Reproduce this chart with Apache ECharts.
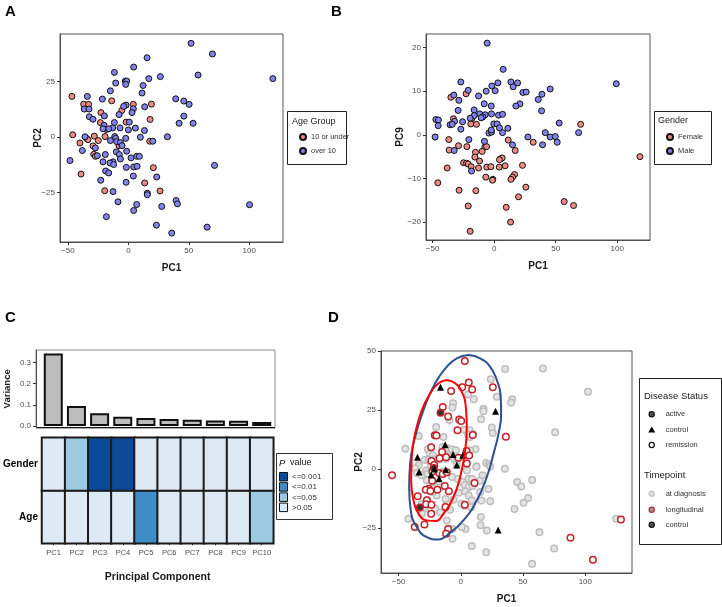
<!DOCTYPE html>
<html>
<head>
<meta charset="utf-8">
<script src="https://cdn.jsdelivr.net/npm/echarts@6/dist/echarts.min.js"></script>
<style>
html,body{margin:0;padding:0;background:#fff;}
#chart{width:722px;height:607px;}
</style>
</head>
<body>
<div id="chart"></div>
<script>
// ---------------- Panel A: PC1 vs PC2 by age group ----------------
const ageUnder10 = [[-46.7,18.4],[-13.8,16.4],[-37.0,14.9],[-32.9,14.8],[4.1,14.8],[19.1,14.9],[-5.5,12.0],[-22.7,11.1],[18.0,8.0],[-23.2,6.6],[-1.9,6.8],[-46.1,1.1],[-28.2,0.5],[-34.5,-0.6],[-33.4,-1.1],[-19.3,0.3],[-40.1,-2.6],[-24.9,-1.5],[-8.0,-2.6],[17.7,-1.8],[-29.3,-3.9],[-7.7,-3.8],[-28.7,-7.7],[-27.3,-8.6],[20.7,-13.7],[-39.2,-16.6],[13.5,-20.6],[-19.6,-24.1],[26.2,-24.2]];
const ageOver10 = [[51.9,42.3],[69.6,37.5],[15.5,35.8],[4.4,31.6],[-11.6,29.2],[57.7,28.0],[26.5,27.3],[16.9,26.4],[119.6,26.4],[-2.5,25.3],[-1.4,25.3],[-10.5,24.4],[-2.2,23.8],[12.2,23.3],[-14.9,20.9],[11.3,19.9],[-34.0,18.4],[-21.5,17.2],[39.2,17.3],[45.9,16.3],[-1.9,14.5],[50.3,14.8],[-36.5,12.7],[-32.6,12.7],[4.1,12.8],[13.5,13.7],[-3.9,13.9],[3.0,11.1],[-7.7,10.2],[-19.9,9.6],[-32.3,9.2],[45.9,9.5],[-29.3,8.1],[-11.6,6.6],[0.8,6.8],[42.0,6.3],[53.6,6.3],[-20.2,5.4],[5.8,4.1],[-6.9,4.2],[-13.0,4.2],[-18.2,3.5],[-16.3,3.8],[-21.0,3.8],[0,3.3],[13.3,3.0],[-35.9,0.2],[-11.3,0.3],[-10.5,-0.5],[9.9,0],[-2.2,-0.5],[32.3,0.2],[-14.9,-1.5],[-9.7,-2.0],[-6.6,-2.4],[20.2,-1.8],[-38.1,-6.0],[-27.3,-4.8],[-5.2,-3.8],[-9.9,-6.6],[-1.4,-6.3],[-25.7,-8.3],[-19.1,-7.8],[-7.5,-7.8],[6.9,-8.6],[9.1,-8.6],[-6.6,-9.8],[2.2,-9.3],[-48.3,-10.5],[-21.0,-11.1],[-12.7,-11.1],[-15.2,-11.6],[-12.2,-12.3],[-1.7,-13.6],[4.4,-13.4],[7.2,-13.1],[71.3,-12.7],[-18.8,-15.2],[-16.3,-16.1],[4.1,-17.5],[23.5,-17.9],[-22.9,-19.4],[-1.9,-20.3],[-12.7,-24.5],[15.7,-25.2],[15.7,-25.9],[39.5,-28.5],[40.6,-30.0],[-8.6,-29.1],[6.9,-30.3],[27.6,-31.2],[100.3,-30.4],[4.4,-33.0],[-18.2,-35.8],[23.2,-39.6],[65.2,-40.5],[35.9,-43.2]];
const aXTicks = [-50, 0, 50, 100];
const aYTicks = [-25, 0, 25];

// ---------------- Panel B: PC1 vs PC9 by gender ----------------
const genderFemale = [[-22.8,9.4],[-35.2,8.6],[-18.2,3.7],[-33.1,3.7],[-19.0,2.5],[-14.4,2.4],[70.2,2.4],[-36.9,-1.1],[11.4,-1.2],[31.7,-1.7],[-29.0,-2.5],[-22.2,-2.7],[-7.6,-2.8],[-6.2,-2.7],[-36.6,-3.5],[17.1,-3.6],[-9.8,-3.8],[-15.2,-4.0],[118.4,-5.0],[-15.7,-5.1],[5.1,-5.5],[6.5,-5.3],[4.3,-5.7],[-24.9,-6.4],[-22.5,-6.5],[-21.1,-6.7],[-11.9,-6.0],[-18.7,-7.3],[-38.2,-7.6],[-12.7,-7.6],[-6.0,-7.4],[-2.7,-7.3],[4.1,-7.4],[8.9,-7.1],[23.0,-7.0],[-6.8,-9.7],[-1.1,-10.2],[-1.4,-10.4],[16.5,-9.1],[14.9,-9.7],[13.6,-10.2],[-45.8,-11.0],[25.7,-12.0],[-28.5,-12.7],[-14.9,-12.8],[19.8,-14.2],[56.9,-15.3],[64.5,-16.2],[-21.1,-16.3],[9.8,-16.6],[13.3,-20.0],[-19.5,-22.1]];
const genderMale = [[-5.7,21.0],[7.3,15.0],[-27.1,12.1],[3.0,11.9],[13.6,12.1],[19.0,11.9],[15.4,11.0],[99.2,11.7],[-21.1,10.2],[-6.5,10.0],[-1.9,11.2],[0.8,10.1],[45.5,10.5],[23.3,9.7],[26.0,9.8],[38.8,9.3],[-32.8,9.1],[-12.7,8.9],[-28.7,7.9],[35.8,8.1],[-8.1,7.1],[-2.4,6.6],[20.9,7.1],[17.6,6.6],[-29.3,5.6],[-16.3,5.7],[38.5,5.5],[-11.7,4.8],[-2.2,4.8],[3.5,4.5],[6.8,4.7],[-16.3,4.4],[-7.3,4.6],[-9.2,4.1],[-10.6,3.9],[-19.5,3.8],[-47.4,3.5],[-45.3,3.4],[-25.7,3.0],[-32.2,3.1],[-35.8,2.3],[-34.1,2.4],[-0.3,2.5],[2.4,2.5],[52.8,2.7],[4.3,1.6],[11.1,1.5],[-27.1,1.3],[-45.5,2.1],[-4.3,0.4],[-2.2,0.6],[-2.4,1.1],[6.8,0.5],[41.5,0.5],[68.6,0.5],[-48.0,-0.5],[27.4,-0.5],[45.5,-0.5],[49.6,-0.4],[-20.6,-1.1],[-7.9,-1.5],[51.2,-1.7],[14.9,-2.3],[39.3,-2.3],[-32.5,-3.6],[-18.4,-8.3]];
const bXTicks = [-50, 0, 50, 100];
const bYTicks = [-20, -10, 0, 10, 20];

// ---------------- Panel C: variance and association heatmap ----------------
const pcCategories = ['PC1','PC2','PC3','PC4','PC5','PC6','PC7','PC8','PC9','PC10'];
const varianceValues = [0.342, 0.094, 0.060, 0.044, 0.038, 0.033, 0.030, 0.026, 0.025, 0.019];
const varianceTicks = [0, 0.1, 0.2, 0.3];
const heatRows = ['Age', 'Gender'];
// p-value class: 0 = >0.05, 1 = <=0.05, 2 = <=0.01, 3 = <=0.001
const genderPClass = [0, 1, 3, 3, 0, 0, 0, 0, 0, 0];
const agePClass = [0, 0, 0, 0, 2, 0, 0, 0, 0, 1];
const pValueLabels = ['<=0.001', '<=0.01', '<=0.05', '>0.05'];

// ---------------- Panel D: PC1 vs PC2 by disease status / timepoint ----------------
const atDiagnosis = [[65.9,42.6],[35.6,42.4],[24.1,38.0],[5.9,31.6],[10.4,29.6],[28.9,30.6],[41.3,29.6],[40.4,28.2],[-6.2,27.9],[-6.7,26.1],[18.2,25.5],[18.2,24.5],[24.9,17.6],[25.7,15.2],[102.1,32.7],[75.8,15.6],[-19.8,17.8],[-9.1,20.8],[-33.8,14.0],[-13.9,13.5],[2.7,16.6],[7.0,16.4],[16.3,21.1],[7.2,13.5],[5.9,14.6],[9.9,14.8],[-44.5,8.6],[11.8,8.4],[7.5,7.9],[-14.7,9.3],[-11.0,8.8],[-7.2,8.4],[-4.0,7.9],[-26.5,8.4],[-24.9,6.4],[-22.5,5.8],[-28.9,3.8],[-25.7,4.0],[-21.9,4.0],[-17.7,4.0],[-12.1,4.2],[-10.2,5.5],[-5.4,4.2],[-2.7,4.0],[-3.2,1.8],[-33.8,1.6],[-36.7,0.3],[-35.1,-1.7],[-31.6,-2.7],[-27.8,-0.7],[-24.1,1.7],[-26.8,-2.0],[-14.5,-1.1],[12.6,1.1],[12.5,0.9],[20.4,2.5],[22.5,1.8],[23.6,1.0],[35.4,0.1],[17.4,-2.7],[6.2,-4.1],[9.1,-4.1],[1.3,-5.4],[3.8,-7.1],[3.2,-6.8],[6.4,-7.7],[9.6,-7.2],[15.3,-5.0],[22.2,-8.5],[45.3,-5.5],[48.5,-7.4],[57.3,-4.7],[54.1,-12.3],[50.4,-14.3],[43.1,-17.0],[-1.6,-10.1],[3.5,-9.4],[6.4,-11.2],[8.8,-13.3],[15.5,-9.8],[16.6,-13.4],[23.6,-13.7],[2.9,-15.7],[8.3,-16.2],[0.5,-14.7],[-31.3,-14.9],[-28.7,-16.6],[-31.3,-19.0],[-42.1,-21.1],[-20.6,-16.9],[-16.6,-18.4],[-8.6,-17.3],[-11.3,-21.8],[-6.7,-25.4],[3.8,-25.5],[0.8,-24.6],[16.1,-20.4],[15.8,-23.9],[20.9,-26.1],[-6.7,-29.6],[8.8,-32.7],[20.4,-35.3],[63.2,-26.8],[75.0,-33.7],[57.3,-40.2],[124.8,-21.1],[-16.6,-7.8],[-19.3,-11.2],[-22.5,-9.9],[-26.8,-13.3],[-11.3,-14.7],[-12.3,-12.7],[-5.9,-13.0],[-2.7,-4.1],[-7.0,-3.4],[4.8,-0.6],[-27.3,-4.8],[-21.9,-5.5]];
const longitudinalRemission = [[3.2,45.8],[6.4,36.7],[-7.8,33.0],[1.1,34.6],[9.1,33.7],[25.7,34.6],[-14.5,26.3],[-10.2,22.2],[-1.3,21.0],[0.3,20.3],[-2.7,16.4],[-20.9,14.3],[-19.6,14.2],[9.6,14.4],[36.2,13.7],[-23.8,9.2],[-15.0,7.2],[4.6,7.6],[6.7,5.7],[-17.1,4.5],[-11.8,5.0],[-1.9,4.7],[4.8,2.3],[-23.6,3.4],[-21.4,1.7],[11.0,-5.9],[-22.8,-1.1],[-17.4,-1.7],[-14.5,-2.1],[-11.3,-1.4],[-23.0,-5.0],[-12.9,-7.2],[-25.7,-8.4],[-28.1,-8.8],[-18.8,-8.8],[-9.6,-9.5],[-24.4,-9.3],[-34.6,-11.6],[-27.3,-13.3],[-27.9,-15.0],[-12.3,-16.1],[3.2,-15.2],[-23.8,-19.0],[-23.6,-15.2],[-29.2,-23.5],[-37.0,-24.6],[-10.2,-25.4],[-11.8,-27.5],[-55.2,-2.7],[88.1,-29.2],[106.1,-38.5],[128.6,-21.4]];
const longitudinalActive = [[-16.3,23.8],[-32.9,-16.3],[-21.7,0.4]];
const controlSamples = [[-16.3,34.6],[27.9,24.5],[-12.6,10.3],[-34.8,5.0],[-6.2,6.1],[1.6,5.8],[-3.2,1.7],[-33.5,-1.3],[-21.2,0],[-23.8,-2.5],[-12.1,-0.3],[-17.4,-4.1],[30.0,-25.9]];
const ellipseDiagnosis = [[6.2,48.3],[15.5,46.9],[23.6,43.3],[28.9,37.7],[32.1,30.6],[32.4,23.5],[30.3,15.0],[26.3,6.5],[20.9,-3.4],[12.9,-13.3],[2.1,-21.8],[-11.3,-28.2],[-17.9,-29.9],[-27.3,-28.9],[-35.4,-24.6],[-40.2,-17.6],[-41.5,-7.6],[-40.7,2.3],[-36.7,13.6],[-30.0,24.9],[-20.6,36.3],[-11.3,43.3],[-3.2,46.9]];
const ellipseLongitudinal = [[-11.3,37.7],[-4.6,36.3],[0.8,32.7],[4.0,26.3],[4.8,17.8],[3.5,7.9],[-0.5,-3.4],[-5.9,-11.9],[-13.9,-19.0],[-20.6,-22.1],[-27.3,-21.8],[-34.0,-19.0],[-38.0,-13.3],[-39.9,-4.8],[-39.4,5.1],[-36.7,15.0],[-31.3,24.9],[-24.6,32.0],[-17.9,36.3]];
const dXTicks = [-50, 0, 50, 100];
const dYTicks = [-25, 0, 25, 50];

// ---------------- rendering ----------------
const FONT = '"Liberation Sans", Arial, sans-serif';
const minus = v => (v < 0 ? '\u2212' + Math.abs(v) : String(v));
const tickLabel = {color: '#4d4d4d', fontSize: 8, fontFamily: FONT};
const titleStyle = {color: '#1a1a1a', fontSize: 10, fontWeight: 'bold', fontFamily: FONT};

function valAxis(gridIndex, min, max, ticks, name, nameGap, fmt) {
  return {
    type: 'value', gridIndex, min, max,
    name, nameLocation: 'middle', nameGap, nameMoveOverlap: false, nameTextStyle: titleStyle,
    splitLine: {show: false},
    axisLine: {show: true, onZero: false, lineStyle: {color: '#4d4d4d', width: 1}},
    axisTick: {show: true, length: 3, customValues: ticks, lineStyle: {color: '#333'}},
    axisLabel: {show: true, margin: 5, customValues: ticks, formatter: fmt || minus, ...tickLabel}
  };
}

const chart = echarts.init(document.getElementById('chart'), null, {renderer: 'canvas'});

const gridBox = {show: true, borderColor: '#555', borderWidth: 1, backgroundColor: '#fff'};

const heatData = [];
pcCategories.forEach((pc, i) => {
  heatData.push([i, 0, agePClass[i]]);
  heatData.push([i, 1, genderPClass[i]]);
});

const blueShades = ['#dde9f5', '#9ccae0', '#3f8dc7', '#0c4a97']; // by class 0..3

const series = [
  {name: '10 or under', type: 'scatter', xAxisIndex: 0, yAxisIndex: 0, data: ageUnder10, symbolSize: 6,
   itemStyle: {color: '#ee8a82', borderColor: '#111', borderWidth: 1, opacity: 1}},
  {name: 'over 10', type: 'scatter', xAxisIndex: 0, yAxisIndex: 0, data: ageOver10, symbolSize: 6,
   itemStyle: {color: '#8383ee', borderColor: '#111', borderWidth: 1, opacity: 1}},
  {name: 'Female', type: 'scatter', xAxisIndex: 1, yAxisIndex: 1, data: genderFemale, symbolSize: 6,
   itemStyle: {color: '#ee8a82', borderColor: '#111', borderWidth: 1, opacity: 1}},
  {name: 'Male', type: 'scatter', xAxisIndex: 1, yAxisIndex: 1, data: genderMale, symbolSize: 6,
   itemStyle: {color: '#8383ee', borderColor: '#111', borderWidth: 1, opacity: 1}},
  {name: 'Variance', type: 'bar', xAxisIndex: 2, yAxisIndex: 2, data: varianceValues, barWidth: 19,
   itemStyle: {color: '#bdbdbd', borderColor: '#111', borderWidth: 2}},
  {name: 'P value', type: 'heatmap', xAxisIndex: 3, yAxisIndex: 3, data: heatData,
   itemStyle: {borderColor: '#1a1a1a', borderWidth: 2}},
  {name: 'at diagnosis', type: 'scatter', xAxisIndex: 4, yAxisIndex: 4, data: atDiagnosis, symbolSize: 6.5,
   itemStyle: {color: '#e4e4e4', borderColor: '#bdbdbd', borderWidth: 1.5, opacity: 1}},
  {name: 'longitudinal remission', type: 'scatter', xAxisIndex: 4, yAxisIndex: 4, data: longitudinalRemission, symbolSize: 6.5,
   itemStyle: {color: '#fff', borderColor: '#c42127', borderWidth: 1.5, opacity: 1}},
  {name: 'longitudinal active', type: 'scatter', xAxisIndex: 4, yAxisIndex: 4, data: longitudinalActive, symbolSize: 6.5,
   itemStyle: {color: '#333', borderColor: '#c42127', borderWidth: 1.5, opacity: 1}},
  {name: 'control samples', type: 'scatter', xAxisIndex: 4, yAxisIndex: 4, data: controlSamples, symbol: 'triangle', symbolSize: 7,
   itemStyle: {color: '#000', opacity: 1}},
  {name: 'ellipse diagnosis', type: 'line', xAxisIndex: 4, yAxisIndex: 4, data: ellipseDiagnosis.concat([ellipseDiagnosis[0]]),
   smooth: 0.5, symbol: 'none', lineStyle: {color: '#2c4f91', width: 2}},
  {name: 'ellipse longitudinal', type: 'line', xAxisIndex: 4, yAxisIndex: 4, data: ellipseLongitudinal.concat([ellipseLongitudinal[0]]),
   smooth: 0.5, symbol: 'none', lineStyle: {color: '#ff0000', width: 2}}
];

const txt = (x, y, text, style) => ({type: 'text', x, y, style: Object.assign({text, fontFamily: FONT, fill: '#1a1a1a', textVerticalAlign: 'middle'}, style)});
const rect = (x, y, w, h, style) => ({type: 'rect', shape: {x, y, width: w, height: h}, style});
const circ = (cx, cy, r, fill, stroke) => ({type: 'circle', shape: {cx, cy, r}, style: {fill, stroke, lineWidth: 1.2}});

const graphics = [
  // panel letters
  txt(5, 12, 'A', {fontSize: 15, fontWeight: 'bold', fill: '#000'}),
  txt(331, 12, 'B', {fontSize: 15, fontWeight: 'bold', fill: '#000'}),
  txt(5, 318, 'C', {fontSize: 15, fontWeight: 'bold', fill: '#000'}),
  txt(328, 318, 'D', {fontSize: 15, fontWeight: 'bold', fill: '#000'}),
  // legend A
  rect(287.5, 111.5, 59, 53, {fill: 'none', stroke: '#222', lineWidth: 1}),
  txt(292, 122, 'Age Group', {fontSize: 9, fill: '#222'}),
  // legend B
  rect(654.5, 111.5, 57, 53, {fill: 'none', stroke: '#222', lineWidth: 1}),
  txt(658, 121, 'Gender', {fontSize: 9, fill: '#222'}),
  // panel C bar frame
  rect(36, 350, 239, 77.7, {fill: 'none', stroke: '#8c8c8c', lineWidth: 1}),
  {type: 'line', shape: {x1: 36, y1: 427.7, x2: 275, y2: 427.7}, style: {stroke: '#111', lineWidth: 1.2}},
  // legend C
  rect(276.5, 453.5, 56, 66, {fill: 'none', stroke: '#333', lineWidth: 1}),
  txt(279, 463, 'P', {fontSize: 9.5, fontStyle: 'italic', fill: '#111'}),
  txt(290, 463, 'value', {fontSize: 9, fill: '#111'}),
  // legend D
  rect(639.5, 378.5, 82, 166, {fill: 'none', stroke: '#222', lineWidth: 1}),
  txt(644, 396, 'Disease Status', {fontSize: 9.5, fill: '#222'}),
  circ(651.7, 414.3, 2.6, '#555', '#111'),
  {type: 'polygon', shape: {points: [[651.7, 426.4], [655.2, 432.6], [648.2, 432.6]]}, style: {fill: '#000'}},
  circ(651.7, 445, 2.6, '#fff', '#111'),
  txt(665.7, 414.3, 'active', {fontSize: 7.5, fill: '#333'}),
  txt(665.7, 429.7, 'control', {fontSize: 7.5, fill: '#333'}),
  txt(665.7, 445, 'remission', {fontSize: 7.5, fill: '#333'}),
  txt(644, 475, 'Timepoint', {fontSize: 9.5, fill: '#222'}),
  circ(651.7, 493.7, 2.6, '#dcdcdc', '#c8c8c8'),
  circ(651.7, 509.7, 2.6, '#999', '#c42127'),
  circ(651.7, 524.7, 2.6, '#555', '#111'),
  txt(665.7, 493.7, 'at diagnosis', {fontSize: 7.5, fill: '#333'}),
  txt(665.7, 509.7, 'longitudinal', {fontSize: 7.5, fill: '#333'}),
  txt(665.7, 524.7, 'control', {fontSize: 7.5, fill: '#333'})
];
// legend C swatches (order: darkest first)
const swatchY = [472.5, 482.7, 492.9, 503.1];
pValueLabels.forEach((lab, k) => {
  graphics.push(rect(279.5, swatchY[k], 8, 8.5, {fill: blueShades[3 - k], stroke: '#111', lineWidth: 1}));
  graphics.push(txt(292, swatchY[k] + 4.5, lab, {fontSize: 8, fill: '#333'}));
});

const yA = valAxis(0, -47.2, 46.5, aYTicks, 'PC2', 17);
const yB = valAxis(1, -24.1, 23.1, bYTicks, 'PC9', 21);
const yD = valAxis(4, -44.1, 50, dYTicks, 'PC2', 17);
const yVar = Object.assign(valAxis(2, -0.008, 0.358, varianceTicks, 'Variance', 24, v => v.toFixed(1)),
  {offset: 5.7, nameTextStyle: {color: '#1a1a1a', fontSize: 9.5, fontWeight: 'bold', fontFamily: FONT}});

const option = {
  animation: false,
  backgroundColor: '#fff',
  textStyle: {fontFamily: FONT},
  grid: [
    Object.assign({left: 60, top: 34, width: 223, height: 208}, gridBox),
    Object.assign({left: 426, top: 34, width: 224, height: 206}, gridBox),
    {left: 41.7, top: 350, width: 231.6, height: 77.7, show: false},
    {left: 41.7, top: 437.7, width: 231.6, height: 105.6, show: false},
    Object.assign({left: 381, top: 351, width: 251, height: 222}, gridBox)
  ],
  xAxis: [
    valAxis(0, -56.6, 128, aXTicks, 'PC1', 21),
    valAxis(1, -55.4, 126.6, bXTicks, 'PC1', 21),
    {type: 'category', gridIndex: 2, data: pcCategories, show: false},
    {type: 'category', gridIndex: 3, data: pcCategories,
     name: 'Principal Component', nameLocation: 'middle', nameGap: 28,
     nameTextStyle: {color: '#1a1a1a', fontSize: 10.5, fontWeight: 'bold', fontFamily: FONT},
     axisLine: {show: false}, splitLine: {show: false},
     axisTick: {show: true, alignWithLabel: true, interval: 0, length: 2, lineStyle: {color: '#333'}},
     axisLabel: {margin: 6, interval: 0, ...tickLabel, fontSize: 7.5}},
    valAxis(4, -64.1, 137.5, dXTicks, 'PC1', 21)
  ],
  yAxis: [
    yA,
    yB,
    yVar,
    {type: 'category', gridIndex: 3, data: heatRows,
     axisLine: {show: false}, axisTick: {show: false}, splitLine: {show: false},
     axisLabel: {margin: 4, color: '#000', fontSize: 10, fontWeight: 'bold', fontFamily: FONT}},
    yD
  ],
  visualMap: [{
    type: 'piecewise', show: false, seriesIndex: 5, dimension: 2,
    pieces: [
      {value: 0, color: blueShades[0]},
      {value: 1, color: blueShades[1]},
      {value: 2, color: blueShades[2]},
      {value: 3, color: blueShades[3]}
    ]
  }],
  legend: [
    {data: ['10 or under', 'over 10'], left: 294, top: 128, orient: 'vertical', icon: 'circle',
     itemWidth: 6, itemHeight: 6, itemGap: 6, textStyle: {fontSize: 7.5, color: '#333', fontFamily: FONT}},
    {data: ['Female', 'Male'], left: 661, top: 128, orient: 'vertical', icon: 'circle',
     itemWidth: 6, itemHeight: 6, itemGap: 6, textStyle: {fontSize: 7.5, color: '#333', fontFamily: FONT}}
  ],
  graphic: graphics,
  series
};
chart.setOption(option);
</script>
</body>
</html>
